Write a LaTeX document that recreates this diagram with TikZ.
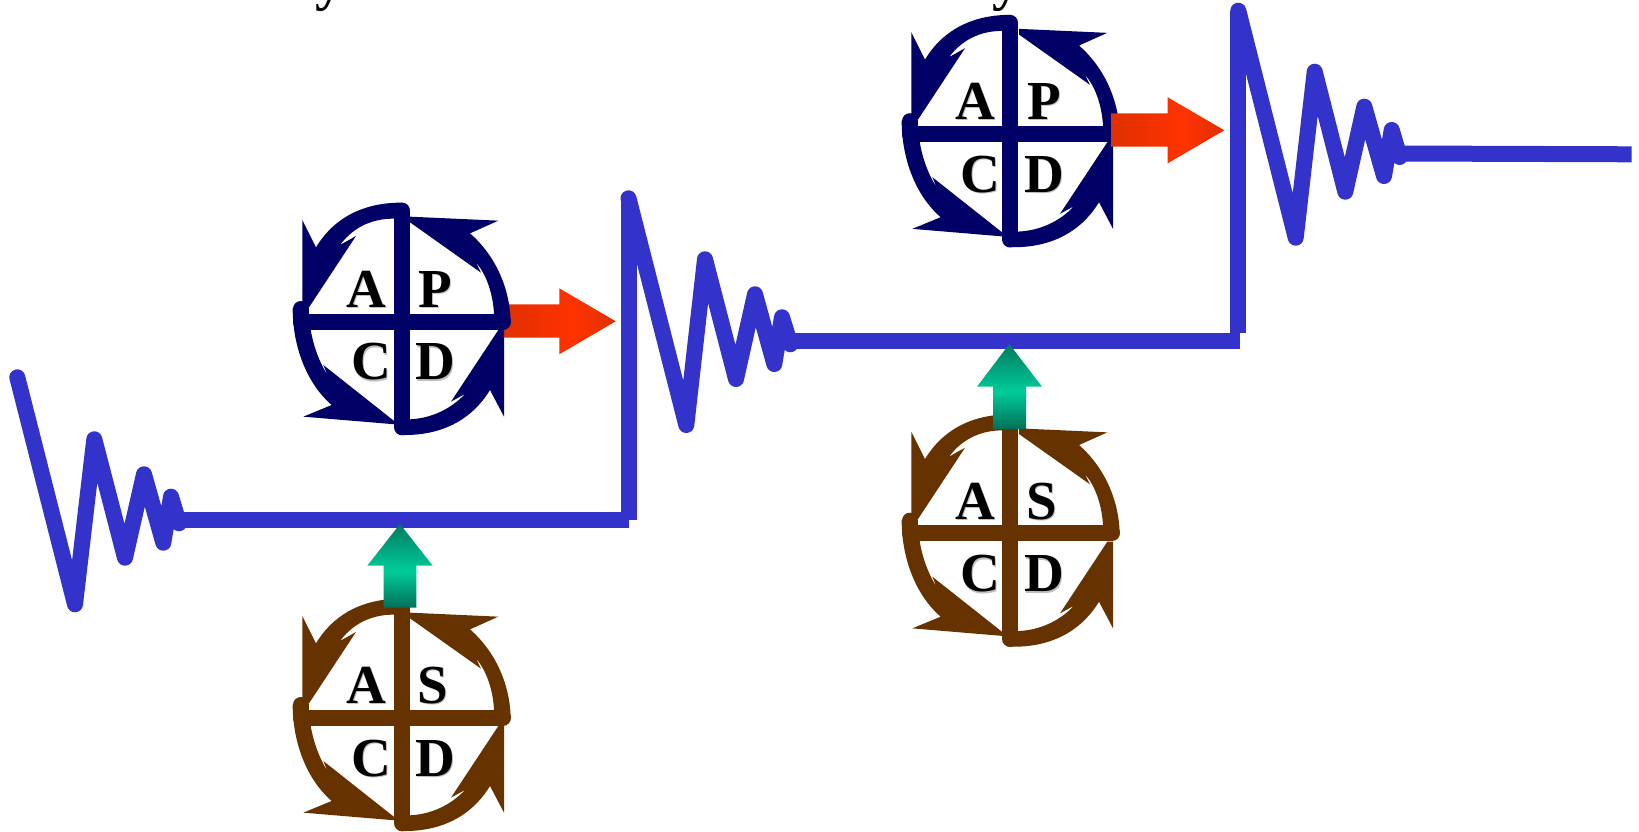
\documentclass[tikz,border=0pt]{standalone}
\usepackage{fontspec}
\setmainfont{Liberation Serif}
\definecolor{navyc}{HTML}{000066}
\definecolor{brownc}{HTML}{663300}
\definecolor{bluec}{HTML}{3333CC}
\pgfdeclarehorizontalshading{redarrow}{100bp}{color(0bp)=({rgb,255:red,224;green,48;blue,0}); color(25bp)=({rgb,255:red,224;green,48;blue,0}); color(57bp)=({rgb,255:red,255;green,51;blue,0}); color(75bp)=({rgb,255:red,224;green,48;blue,0}); color(100bp)=({rgb,255:red,224;green,48;blue,0})}
\pgfdeclareverticalshading{greenarrow}{100bp}{color(0bp)=({rgb,255:red,0;green,112;blue,88}); color(25bp)=({rgb,255:red,0;green,112;blue,88}); color(47bp)=({rgb,255:red,0;green,204;blue,153}); color(75bp)=({rgb,255:red,0;green,122;blue,96}); color(100bp)=({rgb,255:red,0;green,122;blue,96})}
\tikzset{
  zigline/.style={draw=bluec,line width=16pt,line cap=round,line join=round},
  flatline/.style={draw=bluec,line width=16pt,line cap=butt},
  ringstroke/.style={line width=16pt,line cap=round,line join=round},
  letterbg/.style={anchor=base,inner sep=0pt,text=black!25,font=\fontsize{55}{55}\selectfont\bfseries},
  letterfg/.style={anchor=base,inner sep=0pt,text=black,font=\fontsize{55}{55}\selectfont\bfseries},
  topglyph/.style={anchor=base,inner sep=0pt,text=black,font=\fontsize{56}{56}\selectfont\bfseries}
}
% #1 x shift, #2 y shift, #3 colour, #4 top-right letter, #5 shift of vertical bar, #6 id, #7 x of top-right letter
\newcommand{\pdcaring}[7]{%
\begin{scope}[shift={(#1,#2)},x=0.33333pt,y=-0.33333pt]
  % quadrant A arrow
  \fill[#3] (367,38) .. controls (258,37) and (165,78) .. (108,172) -- (67,90) -- (67,352) -- (87,352) -- (228,138) -- (180,165)
     .. controls (225,105) and (285,85) .. (345,86) -- (367,86) -- cycle;
  % quadrant P arrow
  \fill[#3] (692,395) .. controls (690,300) and (650,200) .. (570,130) -- (655,92) -- (390,80) -- (390,97) -- (603,248) -- (588,218)
     .. controls (622,255) and (640,320) .. (642,372) -- (667,372) -- cycle;
  % quadrant D arrow
  \fill[#3] (367,735) .. controls (478,737) and (572,695) .. (630,600) -- (672,680) -- (672,420) -- (655,420) -- (513,635) -- (555,612)
     .. controls (510,660) and (450,685) .. (390,688) -- (367,688) -- cycle;
  % quadrant C arrow
  \fill[#3] (38,355) .. controls (38,470) and (80,580) .. (155,645) -- (70,680) -- (345,703) -- (345,695) -- (130,525) -- (143,556)
     .. controls (120,520) and (100,470) .. (92,418) -- (62,418) -- cycle;
  \draw[#3,ringstroke] (62,357)--(62,395)--(669,395);
  \draw[#3,ringstroke] (367+#5,62)--(367+#5,712);
  \node[letterbg] (#6abg) at (262,356) {A};
  \node[letterfg] (#6a) at (258,352) {A};
  \node[letterbg] (#6pbg) at (#7+4,356) {#4};
  \node[letterfg] (#6p) at (#7,352) {#4};
  \node[letterbg] (#6cbg) at (277,574) {C};
  \node[letterfg] (#6c) at (273,570) {C};
  \node[letterbg] (#6dbg) at (469,574) {D};
  \node[letterfg] (#6d) at (465,570) {D};
\end{scope}}
\newcommand{\redarr}[7]{% left, shaft top, shaft bottom, head x, head top, head bottom, tip x
  \path[shading=redarrow] (#1,#2)--(#4,#2)--(#4,#5)--(#7,{(#5+#6)/2})--(#4,#6)--(#4,#3)--(#1,#3)--cycle;}
\newcommand{\greenarr}[7]{% tip x, tip y, head y, head left, head right, shaft left, shaft right ; bottom set by \greenbot
  \path[shading=greenarrow] (#1,#2)--(#5,#3)--(#7,#3)--(#7,\greenbot)--(#6,\greenbot)--(#6,#3)--(#4,#3)--cycle;}
\begin{document}
\begin{tikzpicture}[x=1pt,y=-1pt]
\useasboundingbox (0,0) rectangle (1639,832);
\clip (0,0) rectangle (1639,832);
\fill[white] (0,0) rectangle (1639,832);
\node[topglyph] (ya) at (329,0) {y};
\node[topglyph] (yb) at (1006,0) {y};
% blue staircase
\coordinate (z1a) at (17.3,377.3); \coordinate (z1b) at (75,604.3); \coordinate (z1c) at (94.3,439.3);
\coordinate (z1d) at (125,557.7); \coordinate (z1e) at (144,474.3); \coordinate (z1f) at (163.3,542.7);
\coordinate (z1g) at (171,496.7); \coordinate (z1h) at (179,523.3);
\draw[zigline] (z1a)--(z1b)--(z1c)--(z1d)--(z1e)--(z1f)--(z1g)--(z1h);
\coordinate (h1a) at (179,519.5); \coordinate (h1b) at (628.5,519.5);
\draw[flatline] (h1a)--(h1b);
\coordinate (z2a) at (628.5,198.3); \coordinate (z2b) at (686.3,425); \coordinate (z2c) at (705,259.3);
\coordinate (z2d) at (736,379); \coordinate (z2e) at (755,294.3); \coordinate (z2f) at (774.3,364);
\coordinate (z2g) at (782,317.3); \coordinate (z2h) at (790.3,344.3); \coordinate (v1b) at (628.5,519.5);
\draw[flatline] (z2a)--(v1b);
\draw[zigline] (z2a)--(z2b)--(z2c)--(z2d)--(z2e)--(z2f)--(z2g)--(z2h);
\coordinate (h2a) at (790,340.5); \coordinate (h2b) at (1240,340.5);
\draw[flatline] (h2a)--(h2b);
\coordinate (z3a) at (1238.3,10.7); \coordinate (z3b) at (1295.7,237.7); \coordinate (z3c) at (1314.7,71.7);
\coordinate (z3d) at (1345.3,191.7); \coordinate (z3e) at (1364.3,106.7); \coordinate (z3f) at (1384,176);
\coordinate (z3g) at (1391.7,130); \coordinate (z3h) at (1399.7,157); \coordinate (v2b) at (1238.3,332.5);
\draw[flatline] (z3a)--(v2b);
\draw[zigline] (z3a)--(z3b)--(z3c)--(z3d)--(z3e)--(z3f)--(z3g)--(z3h);
\coordinate (h3a) at (1399,153.5); \coordinate (h3b) at (1631.7,154.3);
\draw[flatline] (h3a)--(h3b);
% lower-left ring with green arrow
\pdcaring{280}{586}{brownc}{S}{0}{sa}{458}
\def\greenbot{607.7}
\greenarr{400}{524}{565.7}{367.3}{432.7}{383.7}{416.3}
% upper-left ring with red arrow
\redarr{500}{304.3}{337.7}{559.3}{288.3}{354.3}{615.7}
\pdcaring{280}{190}{navyc}{P}{0}{pa}{465}
% upper-right ring with red arrow
\pdcaring{889}{2.2}{navyc}{P}{-3}{pb}{465}
\redarr{1111}{113.3}{146.7}{1167.7}{97.3}{163.3}{1224.3}
% lower-right ring with green arrow
\pdcaring{889}{401.7}{brownc}{S}{-3}{sb}{458}
\def\greenbot{429}
\greenarr{1009.3}{344}{386.7}{977}{1042}{993}{1026}
\end{tikzpicture}
\end{document}
